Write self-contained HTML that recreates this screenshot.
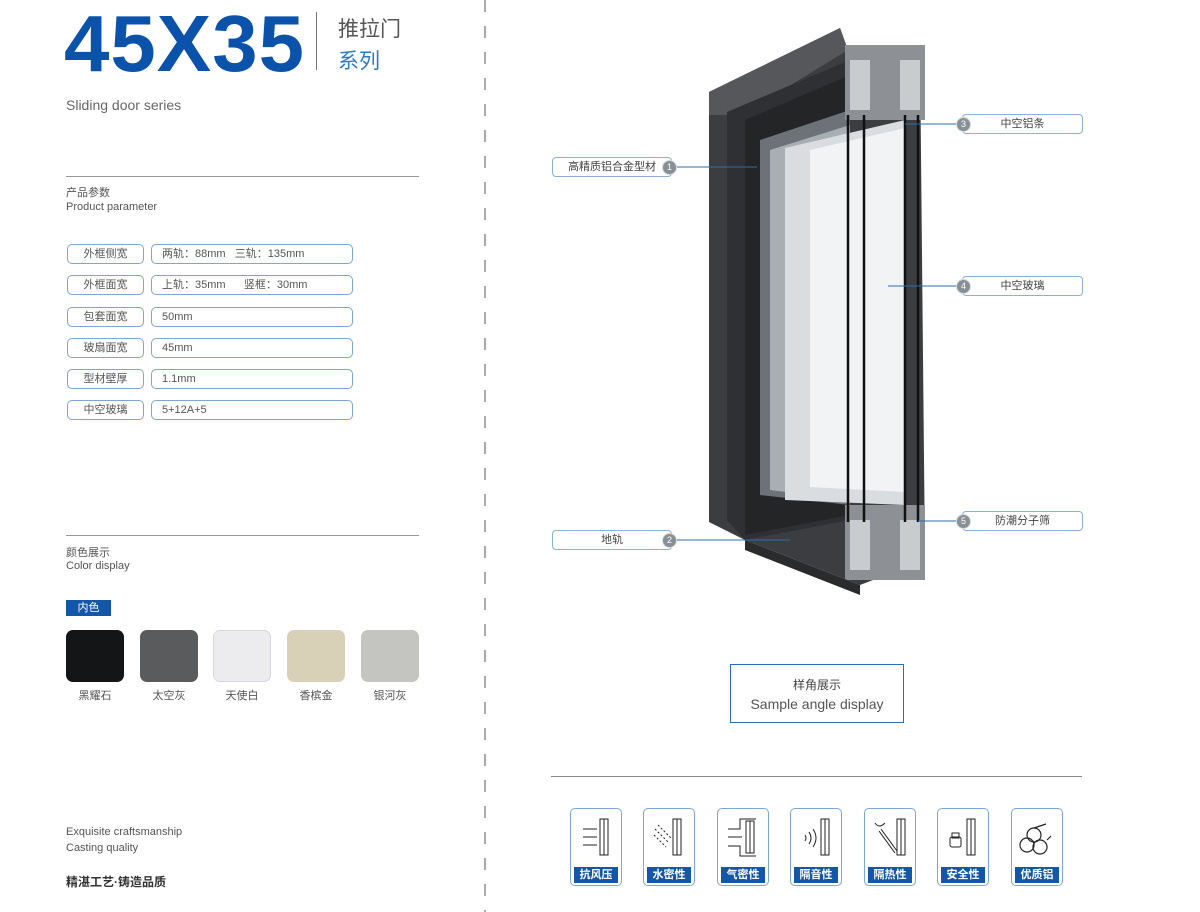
<!DOCTYPE html>
<html><head><meta charset="utf-8"><style>
body{margin:0;width:1200px;height:912px;background:#fff;position:relative;overflow:hidden;font-family:"Liberation Sans","Noto Sans CJK SC",sans-serif;color:#555}
.a{position:absolute;white-space:nowrap}
.lb{position:absolute;border:1px solid #7fa6d2;border-radius:5px;height:18px;line-height:18px;font-size:11px;color:#555;box-sizing:content-box}
.sw{position:absolute;top:630px;width:58px;height:52px;border-radius:7px}
.sl{position:absolute;top:687px;width:58px;text-align:center;font-size:11px;color:#555}
.ic{position:absolute;top:808px;width:50px;height:76px;border:1.5px solid #7ba6d8;border-radius:5px;overflow:hidden;background:#fff}
.ic .t{position:absolute;left:3px;right:3px;bottom:2px;height:16px;background:#1457a8;color:#fff;font-size:11px;font-weight:bold;text-align:center;line-height:16px}
.ic svg{position:absolute;left:0;top:0}
.cb{position:absolute;height:18px;border:1px solid #8fb0d6;border-radius:4px;font-size:11px;line-height:18px;text-align:center;color:#444}
.num{position:absolute;width:13px;height:13px;border-radius:50%;background:#8a8f96;border:1px solid #cdd;color:#fff;font-size:9px;line-height:13px;text-align:center}
</style></head><body>
<div class="a" style="left:484px;top:0;width:1.5px;height:912px;background:repeating-linear-gradient(to bottom,#aaa 0 12px,transparent 12px 26px)"></div>

<div class="a" style="left:64px;top:-2px;font-size:80px;font-weight:bold;color:#0b52aa;letter-spacing:1px;transform:scaleX(1.02);transform-origin:left">45X35</div>
<div class="a" style="left:316px;top:12px;width:1px;height:58px;background:#777"></div>
<div class="a" style="left:338px;top:13px;font-size:21px;color:#555">推拉门</div>
<div class="a" style="left:338px;top:45px;font-size:21px;color:#2a78c6">系列</div>
<div class="a" style="left:66px;top:97px;font-size:14px;color:#666">Sliding door series</div>
<div class="a" style="left:66px;top:176px;width:353px;height:1px;background:#999"></div>
<div class="a" style="left:66px;top:184px;font-size:11px">产品参数</div>
<div class="a" style="left:66px;top:201px;font-size:11px">Product parameter</div>

<div class="lb" style="left:67px;top:244px;width:75px;text-align:center">外框侧宽</div><div class="lb" style="left:151px;top:244px;padding-left:10px;width:190px">两轨：88mm&nbsp;&nbsp;&nbsp;三轨：135mm</div>
<div class="lb" style="left:67px;top:275px;width:75px;text-align:center">外框面宽</div><div class="lb" style="left:151px;top:275px;padding-left:10px;width:190px">上轨：35mm&nbsp;&nbsp;&nbsp;&nbsp;&nbsp;&nbsp;竖框：30mm</div>
<div class="lb" style="left:67px;top:307px;width:75px;text-align:center">包套面宽</div><div class="lb" style="left:151px;top:307px;padding-left:10px;width:190px">50mm</div>
<div class="lb" style="left:67px;top:338px;width:75px;text-align:center">玻扇面宽</div><div class="lb" style="left:151px;top:338px;padding-left:10px;width:190px">45mm</div>
<div class="lb" style="left:67px;top:369px;width:75px;text-align:center">型材壁厚</div><div class="lb" style="left:151px;top:369px;padding-left:10px;width:190px">1.1mm</div>
<div class="lb" style="left:67px;top:400px;width:75px;text-align:center">中空玻璃</div><div class="lb" style="left:151px;top:400px;padding-left:10px;width:190px">5+12A+5</div>

<div class="a" style="left:66px;top:535px;width:353px;height:1px;background:#999"></div>
<div class="a" style="left:66px;top:544px;font-size:11px">颜色展示</div>
<div class="a" style="left:66px;top:560px;font-size:11px">Color display</div>
<div class="a" style="left:66px;top:600px;width:45px;height:16px;background:#1457a8;color:#fff;font-size:11px;line-height:16px;text-align:center">内色</div>
<div class="sw" style="left:66px;background:#141516"></div>
<div class="sw" style="left:140px;background:#5a5b5d"></div>
<div class="sw" style="left:213px;background:#ececee;border:1px solid #d5d8e4;width:56px;height:50px"></div>
<div class="sw" style="left:287px;background:#d9d0b8"></div>
<div class="sw" style="left:361px;background:#c4c4c0"></div>
<div class="sl" style="left:66px">黑耀石</div><div class="sl" style="left:140px">太空灰</div><div class="sl" style="left:213px">天使白</div><div class="sl" style="left:287px">香槟金</div><div class="sl" style="left:361px">银河灰</div>

<div class="a" style="left:66px;top:826px;font-size:11px;color:#555">Exquisite craftsmanship</div>
<div class="a" style="left:66px;top:842px;font-size:11px;color:#555">Casting quality</div>
<div class="a" style="left:66px;top:873px;font-size:12px;font-weight:bold;color:#333">精湛工艺·铸造品质</div>

<svg class="a" style="left:540px;top:20px" width="560" height="580" viewBox="540 20 560 580">
<polygon points="709,92 840,28 848,50 920,52 925,560 860,585 745,540 709,522" fill="#3b3d40"/>
<polygon points="709,92 840,28 848,50 750,110 745,115 709,115" fill="#55575a"/>
<polygon points="727,112 850,60 850,520 745,540 727,520" fill="#2e3033"/>
<polygon points="745,120 850,75 850,515 745,535" fill="#232527"/>
<polygon points="760,140 850,110 850,505 760,495" fill="#6d7278"/>
<polygon points="770,150 850,125 850,500 770,490" fill="#a9aeb3"/>
<polygon points="785,148 905,120 905,505 785,500" fill="#d9dde0"/>
<polygon points="810,150 905,128 905,492 810,487" fill="#f2f3f4"/>
<rect x="845" y="45" width="80" height="75" fill="#8d9196"/>
<rect x="850" y="60" width="20" height="50" fill="#c9cccf"/>
<rect x="900" y="60" width="20" height="50" fill="#c9cccf"/>
<rect x="845" y="505" width="80" height="75" fill="#8d9196"/>
<rect x="850" y="520" width="20" height="50" fill="#c9cccf"/>
<rect x="900" y="520" width="20" height="50" fill="#c9cccf"/>
<polygon points="745,540 860,585 860,595 745,550" fill="#2a2b2d"/>
<g stroke="#111" stroke-width="2.5" fill="none">
<line x1="848" y1="115" x2="848" y2="522"/><line x1="864" y1="115" x2="864" y2="522"/>
<line x1="905" y1="115" x2="905" y2="522"/><line x1="918" y1="115" x2="918" y2="522"/>
</g>
<g stroke="#2c6cb0" stroke-width="1">
<line x1="676" y1="167" x2="757" y2="167"/>
<line x1="676" y1="540" x2="790" y2="540"/>
<line x1="905" y1="124" x2="957" y2="124"/>
<line x1="888" y1="286" x2="957" y2="286"/>
<line x1="918" y1="521" x2="957" y2="521"/>
</g>
</svg>
<div class="cb" style="left:552px;top:157px;width:118px">高精质铝合金型材</div><div class="num" style="left:662px;top:160px">1</div>
<div class="cb" style="left:552px;top:530px;width:118px">地轨</div><div class="num" style="left:662px;top:533px">2</div>
<div class="cb" style="left:962px;top:114px;width:119px">中空铝条</div><div class="num" style="left:956px;top:117px">3</div>
<div class="cb" style="left:962px;top:276px;width:119px">中空玻璃</div><div class="num" style="left:956px;top:279px">4</div>
<div class="cb" style="left:962px;top:511px;width:119px">防潮分子筛</div><div class="num" style="left:956px;top:514px">5</div>

<div class="a" style="left:730px;top:664px;width:172px;height:57px;border:1.5px solid #2a6db5;text-align:center">
<div style="font-size:12px;color:#444;margin-top:11px">样角展示</div>
<div style="font-size:14px;color:#555;margin-top:3px">Sample angle display</div></div>
<div class="a" style="left:551px;top:776px;width:531px;height:1px;background:#888"></div>

<div class="ic" style="left:570px"><svg width="50" height="60" stroke="#222" fill="none" stroke-width="1"><rect x="29" y="10" width="8" height="36"/><line x1="33" y1="10" x2="33" y2="46"/><path d="M12 20h14M12 28h14M12 36h14"/></svg><div class="t">抗风压</div></div>
<div class="ic" style="left:643px"><svg width="50" height="60" stroke="#222" fill="none" stroke-width="1"><rect x="29" y="10" width="8" height="36"/><line x1="33" y1="10" x2="33" y2="46"/><path d="M11 20l14 14M14 16l14 14M10 26l12 12" stroke-dasharray="2 2"/></svg><div class="t">水密性</div></div>
<div class="ic" style="left:717px"><svg width="50" height="60" stroke="#222" fill="none" stroke-width="1"><rect x="28" y="12" width="8" height="32"/><line x1="32" y1="12" x2="32" y2="44"/><path d="M10 20h12v-10h16M10 28h14M10 37h12v10h16"/></svg><div class="t">气密性</div></div>
<div class="ic" style="left:790px"><svg width="50" height="60" stroke="#222" fill="none" stroke-width="1"><rect x="30" y="10" width="8" height="36"/><line x1="34" y1="10" x2="34" y2="46"/><path d="M14 26q2 3 0 6M18 23q4 6 0 12M22 20q6 9 0 18"/></svg><div class="t">隔音性</div></div>
<div class="ic" style="left:864px"><svg width="50" height="60" stroke="#222" fill="none" stroke-width="1"><rect x="32" y="10" width="8" height="36"/><line x1="36" y1="10" x2="36" y2="46"/><path d="M10 14q4 6 10 0M16 20l16 22M14 22l16 22"/></svg><div class="t">隔热性</div></div>
<div class="ic" style="left:937px"><svg width="50" height="60" stroke="#222" fill="none" stroke-width="1"><rect x="29" y="10" width="8" height="36"/><line x1="33" y1="10" x2="33" y2="46"/><rect x="12" y="28" width="11" height="10" rx="2"/><rect x="14" y="24" width="7" height="5"/></svg><div class="t">安全性</div></div>
<div class="ic" style="left:1011px"><svg width="50" height="60" stroke="#222" fill="none" stroke-width="1.2"><circle cx="15" cy="36" r="7"/><circle cx="28" cy="38" r="7"/><circle cx="22" cy="26" r="7"/><path d="M22 19l12-4M35 31l4-4"/></svg><div class="t">优质铝</div></div>
</body></html>
